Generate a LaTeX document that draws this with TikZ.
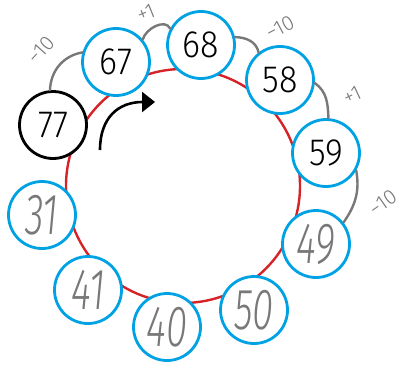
\documentclass[tikz,border=0pt]{standalone}
\usepackage{fontspec}
\setmainfont{Open Sans}
\newfontfamily\thinfont{Fira Sans}[UprightFont=* Light, ItalicFont=* Light Italic]
\usetikzlibrary{arrows.meta}
\definecolor{ringblue}{RGB}{0,162,227}
\definecolor{ringred}{RGB}{213,35,40}
\definecolor{pencil}{RGB}{120,120,120}
\newcommand{\pr}[1]{\scalebox{0.9}[1]{#1}}
\newcommand{\hw}[1]{\scalebox{0.66}[1]{#1}}
\begin{document}
\begin{tikzpicture}[x=1pt,y=1pt,
  num/.style={circle,draw=ringblue,line width=2.8pt,fill=white,minimum size=67pt,inner sep=0pt},
  printed/.style={font=\thinfont\fontsize{38}{38}\selectfont},
  hand/.style={text=pencil,font=\thinfont\fontsize{58}{58}\selectfont\itshape},
  link/.style={draw=pencil,line width=2.4pt,line cap=round},
  jump/.style={text=pencil,font=\thinfont\fontsize{21}{21}\selectfont,inner sep=1pt}
]
\useasboundingbox (0,0) rectangle (409,365);
\draw[ringred,line width=2.4pt] (183,179) circle (117);

\node[num,draw=black,printed] (n77) at (53,240) {\pr{77}};
\node[num,printed] (n67) at (116,303) {\pr{67}};
\node[num,printed] (n68) at (201,320) {\pr{68}};
\node[num,printed] (n58) at (280,285) {\pr{58}};
\node[num,printed] (n59) at (326,212) {\pr{59}};
\node[num,hand] (n49) at (316,121) {\hw{49}};
\node[num,hand] (n50) at (254,55) {\hw{50}};
\node[num,hand] (n40) at (167,38) {\hw{40}};
\node[num,hand] (n41) at (88,75) {\hw{41}};
\node[num,hand] (n31) at (42,150) {\hw{31}};

\draw[link] (n77.95) to[out=88,in=190] (n67.164);
\draw[link] (n67.40) to[out=75,in=115] (n68.152);
\draw[link] (n68.13) to[out=0,in=100] (n58.128);
\draw[link] (n58.-5) to[out=-35,in=92] (n59.86);
\draw[link] (n59.-30) to[out=-80,in=55] (n49.38);

\node[jump,rotate=48] (l1) at (41,315) {−10};
\node[jump,rotate=22] (l2) at (146,352) {+1};
\node[jump,rotate=28] (l3) at (280,337) {−10};
\node[jump,rotate=25] (l4) at (352,270) {+1};
\node[jump,rotate=35] (l5) at (383,162) {−10};

\coordinate (arrS) at (100,215);
\coordinate (arrE) at (155,263);
\draw[line width=2.6pt,-{Triangle[length=13pt,width=20pt]}] (arrS) .. controls (100,247) and (118,263) .. (arrE);
\end{tikzpicture}
\end{document}
